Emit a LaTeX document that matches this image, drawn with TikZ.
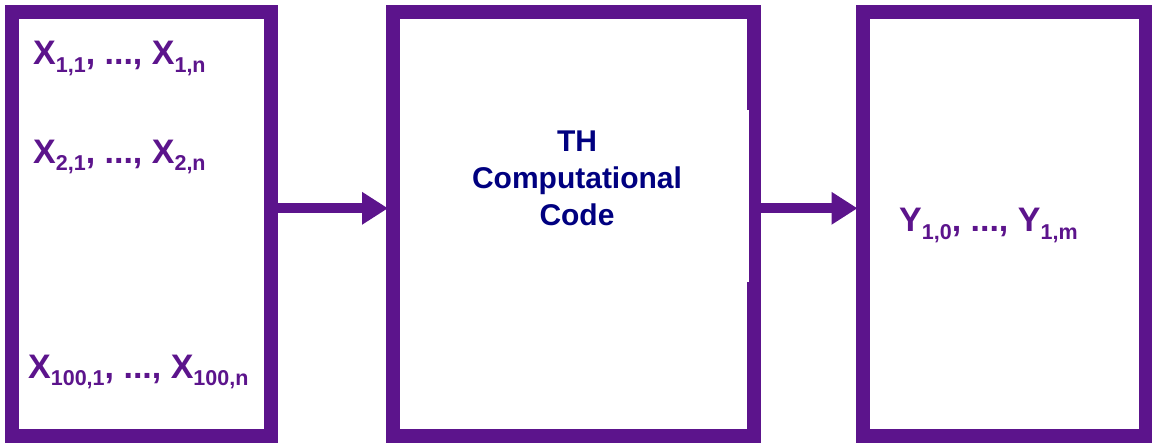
\documentclass[tikz,border=0pt]{standalone}
\usepackage{fontspec}
\setmainfont{Liberation Sans}
\usetikzlibrary{arrows.meta}
\definecolor{frame}{RGB}{92,20,140}
\definecolor{navytext}{RGB}{0,0,128}
% lowered subscript in a smaller size
\newcommand\lowsub[1]{\raisebox{-7.5pt}{\fontsize{21.5}{22}\selectfont #1}}
\tikzset{
  stage/.style={draw=frame, line width=14pt, fill=white, inner sep=0pt, outer sep=0pt, anchor=north west},
  flow/.style={draw=frame, line width=10pt, -{Triangle[length=26pt, width=31pt]}, shorten >=5pt},
  vars/.style={text=frame, font=\fontsize{34}{40}\selectfont\bfseries, inner sep=0pt, anchor=base west},
}
\begin{document}
\begin{tikzpicture}[x=1pt, y=-1pt]
  \useasboundingbox (0,0) rectangle (1152,443);
  % three stages
  \node[stage, minimum width=259pt, minimum height=424pt] (in) at (12,12) {};
  \node[stage, minimum width=360.7pt, minimum height=424pt] (code) at (393,12) {};
  \node[stage, minimum width=283pt, minimum height=424pt] (out) at (862.5,12) {};
  % thinner stretch of the middle frame's right side
  \fill[white] (746.7,110) rectangle (749.3,282);
  % connectors
  \coordinate (lvl) at (0,208.3);
  \draw[flow] (in.east |- lvl) -- (code.west |- lvl);
  \draw[flow] (code.east |- lvl) -- (out.west |- lvl);
  % input variables
  \node[vars] (x1) at (33,65) {X\lowsub{1,1}, ..., X\lowsub{1,n}};
  \node[vars] (x2) at (33,163.3) {X\lowsub{2,1}, ..., X\lowsub{2,n}};
  \node[vars] (x3) at (28,378.3) {X\lowsub{100,1}, ..., X\lowsub{100,n}};
  % code label
  \node[text=navytext, font=\fontsize{30}{37}\selectfont\bfseries, align=center, inner sep=0pt] (lbl) at (577,178) {TH\\Computational\\Code};
  % output variables
  \node[vars] (y1) at (899,231.7) {Y\lowsub{1,0}, ..., Y\lowsub{1,m}};
\end{tikzpicture}
\end{document}
